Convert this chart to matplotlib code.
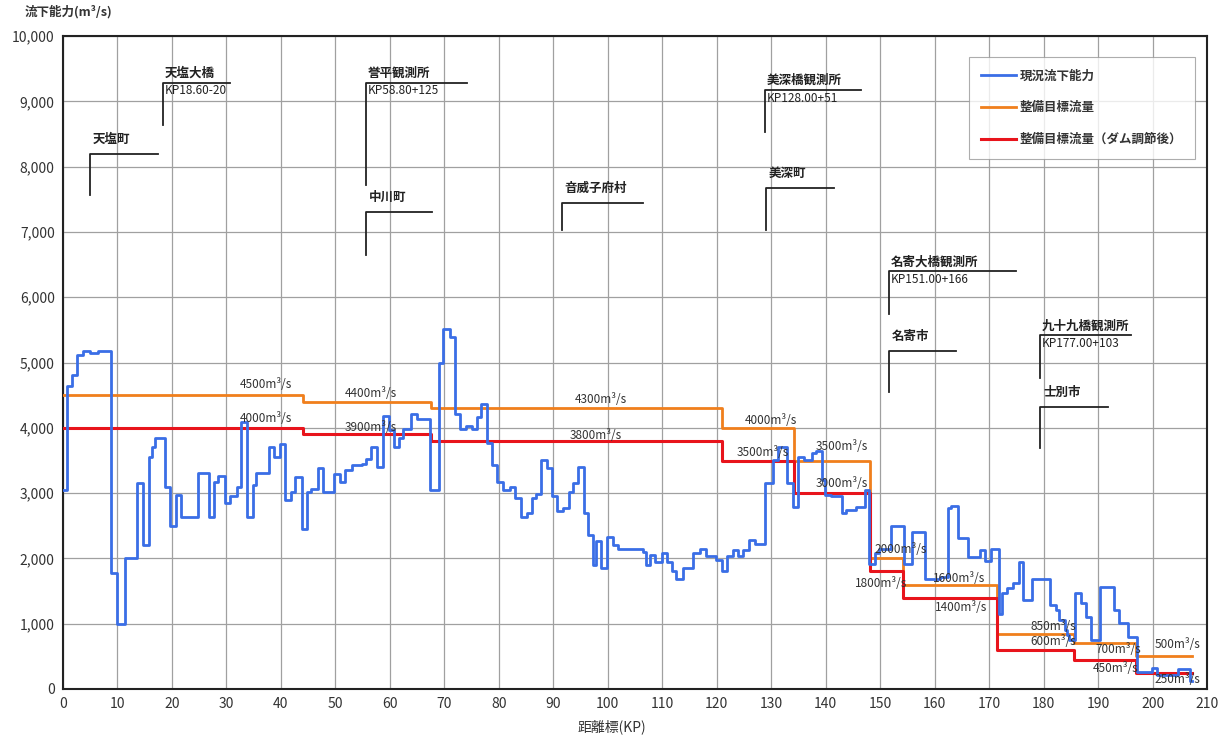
import matplotlib
matplotlib.use('Agg')
import matplotlib.pyplot as plt
from matplotlib.ticker import FuncFormatter

plt.rcParams['font.family'] = ['Noto Sans CJK JP', 'DejaVu Sans']

# 現況流下能力 (step data: start KP, value)
cap_kp = [0, 0.7, 1.6, 2.5, 3.7, 5.0, 6.5, 8.8, 9.9, 11.3, 13.5, 14.6, 15.7, 16.3, 16.9,
          18.7, 19.6, 20.7, 21.7, 24.8, 26.8, 27.8, 28.5, 29.8, 30.6, 31.9, 32.7, 33.7,
          34.8, 35.5, 37.9, 38.7, 39.8, 40.7, 41.8, 42.6, 43.8, 44.8, 45.6, 46.8, 47.8,
          49.7, 50.8, 51.7, 53.0, 54.8, 55.7, 56.6, 57.6, 58.8, 59.8, 60.7, 61.6, 62.5,
          63.9, 64.9, 67.3, 69.0, 69.7, 71.0, 71.9, 72.8, 73.9, 75.0, 75.9, 76.8, 77.9,
          78.7, 79.6, 80.8, 82.0, 82.9, 84.0, 85.1, 86.0, 86.9, 87.8, 88.8, 89.7, 90.6,
          91.7, 92.9, 93.6, 94.5, 95.6, 96.4, 97.2, 97.9, 98.8, 99.8, 100.9, 101.9, 106.5,
          107.1, 107.7, 108.6, 109.9, 110.8, 111.7, 112.6, 113.8, 115.7, 116.9, 118.1,
          119.9, 120.9, 121.8, 123.0, 123.9, 124.8, 126.0, 127.0, 128.8, 130.3, 131.2,
          132.8, 134.0, 134.9, 136.1, 137.4, 138.3, 139.3, 139.8, 141.0, 142.9, 143.8,
          145.6, 147.2, 148.0, 149.0, 149.8, 152.0, 154.3, 155.9, 158.3, 161.0, 162.4,
          163.0, 164.2, 166.1, 168.3, 169.2, 170.4, 171.8, 172.4, 173.3, 174.3, 175.4,
          176.2, 177.8, 181.1, 182.3, 182.9, 183.9, 184.3, 184.7, 185.8, 186.9, 187.8,
          188.7, 190.4, 193.0, 193.9, 195.5, 197.2, 199.8, 200.8, 204.7, 206.8, 207.2]
cap_q = [3050, 4640, 4810, 5110, 5170, 5140, 5180, 1780, 1000, 2000, 3150, 2200, 3560, 3710, 3850,
         3100, 2490, 2970, 2630, 3310, 2630, 3170, 3260, 2850, 2950, 3100, 4090, 2640,
         3120, 3310, 3710, 3560, 3760, 2900, 3020, 3250, 2450, 3010, 3070, 3390, 3020,
         3290, 3170, 3350, 3430, 3450, 3530, 3710, 3400, 4180, 3960, 3710, 3840, 3990,
         4220, 4140, 3050, 4990, 5510, 5390, 4220, 3990, 4030, 3980, 4170, 4370, 3770,
         3430, 3170, 3050, 3100, 2920, 2640, 2690, 2920, 2990, 3510, 3380, 2950, 2720,
         2770, 3010, 3150, 3400, 2690, 2360, 1900, 2260, 1860, 2330, 2210, 2140, 2100,
         1900, 2050, 1950, 2090, 1950, 1800, 1690, 1850, 2080, 2150, 2040,
         1980, 1800, 2030, 2130, 2030, 2130, 2280, 2220, 3150, 3510, 3710,
         3150, 2790, 3560, 3510, 3610, 3640, 3200, 2970, 2950, 2690, 2740,
         2790, 3050, 1920, 2080, 2150, 2490, 1920, 2400, 1680, 1720, 2770,
         2800, 2310, 2020, 2130, 1960, 2150, 1150, 1470, 1540, 1620, 1950,
         1360, 1680, 1290, 1210, 1060, 900, 830, 750, 1470, 1310, 1110,
         750, 1570, 1210, 1010, 800, 260, 320, 210, 300, 120, 120]

# 整備目標流量 / ダム調節後 (step data)
plan_kp = [0, 44.0, 67.5, 121.0, 134.2, 148.1, 154.1, 171.5, 185.5, 196.9, 207.2]
plan_q = [4500, 4400, 4300, 4000, 3500, 2000, 1600, 850, 700, 500, 500]
dam_q = [4000, 3900, 3800, 3500, 3000, 1800, 1400, 600, 450, 250, 250]

# flow labels: (KP, Q, text)
flow_labels = [
    (32.5, 4660, '4500m³/s'), (32.5, 4150, '4000m³/s'),
    (51.7, 4530, '4400m³/s'), (51.7, 4000, '3900m³/s'),
    (93.9, 4430, '4300m³/s'), (93.0, 3890, '3800m³/s'),
    (125.1, 4120, '4000m³/s'), (123.7, 3630, '3500m³/s'),
    (138.2, 3720, '3500m³/s'), (138.2, 3150, '3000m³/s'),
    (149.0, 2130, '2000m³/s'), (145.3, 1620, '1800m³/s'),
    (159.6, 1700, '1600m³/s'), (160.0, 1255, '1400m³/s'),
    (177.6, 950, '850m³/s'), (177.6, 720, '600m³/s'),
    (189.5, 610, '700m³/s'), (200.4, 675, '500m³/s'),
    (189.0, 320, '450m³/s'), (200.4, 140, '250m³/s'),
]

# locations: (KP of leader, line top Q, line bottom Q, line end KP, name, sub)
places = [
    (5.0, 8200, 7560, 17.4, '天塩町', None),
    (18.3, 9290, 8640, 30.6, '天塩大橋', 'KP18.60-20'),
    (55.6, 9290, 7720, 74.1, '誉平観測所', 'KP58.80+125'),
    (55.6, 7310, 6650, 67.7, '中川町', None),
    (91.6, 7440, 7030, 106.4, '音威子府村', None),
    (128.9, 9180, 8530, 146.4, '美深橋観測所', 'KP128.00+51'),
    (129.1, 7680, 7030, 141.5, '美深町', None),
    (151.6, 6400, 5750, 175.0, '名寄大橋観測所', 'KP151.00+166'),
    (151.6, 5180, 4550, 163.9, '名寄市', None),
    (179.4, 5420, 4760, 196.0, '九十九橋観測所', 'KP177.00+103'),
    (179.4, 4320, 3690, 191.8, '士別市', None),
]

fig = plt.figure(figsize=(12.23, 7.38), dpi=100)
ax = fig.add_axes([0.0515, 0.0664, 0.9355, 0.8846])

ax.plot(cap_kp, cap_q, drawstyle='steps-post', color='#3a6ee6', linewidth=2.0, label='現況流下能力', zorder=4)
ax.plot(plan_kp, plan_q, drawstyle='steps-post', color='#f07f1c', linewidth=2.0, label='整備目標流量', zorder=3)
ax.plot(plan_kp, dam_q, drawstyle='steps-post', color='#e8141c', linewidth=2.2, label='整備目標流量（ダム調節後）', zorder=3)

for x, y, t in flow_labels:
    ax.text(x, y, t, fontsize=8.5, color='#333333', va='center', ha='left', zorder=5)

for x, ytop, ybot, xend, name, sub in places:
    ax.plot([x, x, xend], [ybot, ytop, ytop], color='#222222', linewidth=1.3, zorder=5)
    if sub:
        ax.text(x + 0.3, ytop + 40, name, fontsize=9, fontweight='bold', color='#222222', va='bottom', ha='left')
        ax.text(x + 0.3, ytop - 30, sub, fontsize=8.5, color='#222222', va='top', ha='left')
    else:
        ax.text(x + 0.5, ytop + 120, name, fontsize=9, fontweight='bold', color='#222222', va='bottom', ha='left')

ax.set_xlim(0, 210)
ax.set_ylim(0, 10000)
ax.set_xticks(range(0, 211, 10))
ax.set_yticks(range(0, 10001, 1000))
ax.yaxis.set_major_formatter(FuncFormatter(lambda v, p: f'{int(v):,}'))
ax.tick_params(length=0, labelsize=10, colors='#333333', pad=6)
ax.grid(True, color='#a0a0a0', linewidth=0.9)
ax.set_axisbelow(True)
for s in ax.spines.values():
    s.set_linewidth(1.5)
    s.set_color('#222222')

leg = ax.legend(loc='upper right', bbox_to_anchor=(0.9895, 0.968), fontsize=9, frameon=True,
                fancybox=False, edgecolor='#999999', labelspacing=1.5, handlelength=2.8,
                handletextpad=0.3, borderpad=1.0, borderaxespad=0)
leg.get_frame().set_linewidth(0.8)
for t in leg.get_texts():
    t.set_fontweight('bold')
    t.set_color('#333333')

fig.text(25 / 1223, 1 - 12 / 738, '流下能力(m³/s)', fontsize=9, fontweight='bold', color='#333333', va='center', ha='left')
fig.text(612 / 1223, 1 - 727 / 738, '距離標(KP)', fontsize=10, color='#333333', va='center', ha='center')

fig.savefig('out.png', dpi=100)
